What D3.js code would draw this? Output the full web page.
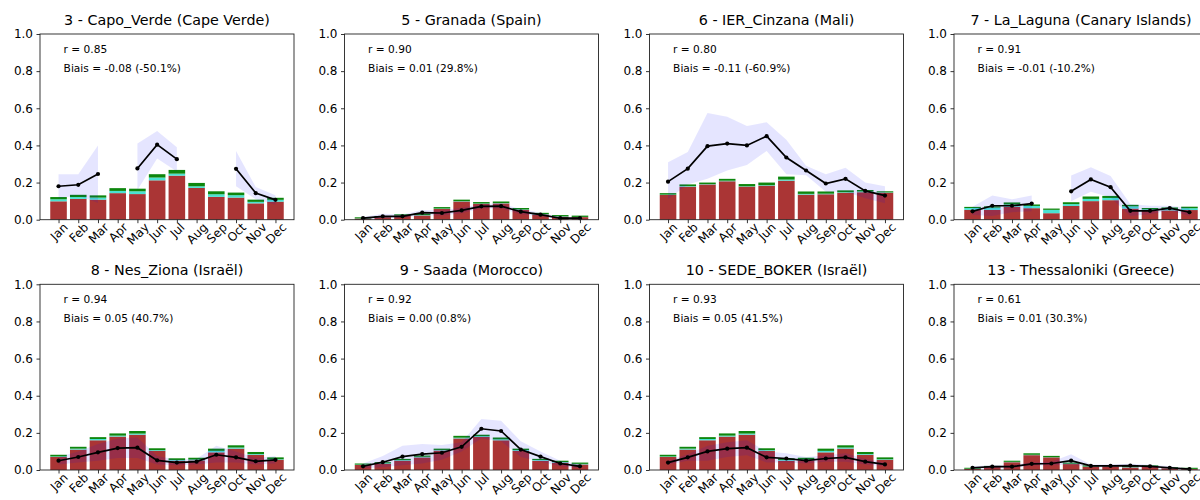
<!DOCTYPE html>
<html>
<head>
<meta charset="utf-8">
<script src="https://cdn.jsdelivr.net/npm/d3@7"></script>
<style>
  body { margin: 0; background: #fff; }
  text { font-family: "DejaVu Sans", sans-serif; fill: #000; }
</style>
</head>
<body>
<svg id="chart" width="1200" height="500"></svg>
<script>
// Monthly AOD: stacked model components, observed mean and ±1 std band per station
const months = ["Jan","Feb","Mar","Apr","May","Jun","Jul","Aug","Sep","Oct","Nov","Dec"];
const stationTitles = [
  "3 - Capo_Verde (Cape Verde)", "5 - Granada (Spain)", "6 - IER_Cinzana (Mali)",
  "7 - La_Laguna (Canary Islands)", "8 - Nes_Ziona (Israël)", "9 - Saada (Morocco)",
  "10 - SEDE_BOKER (Israël)", "13 - Thessaloniki (Greece)"
];
const rLabels = ["0.85","0.90","0.80","0.91","0.94","0.92","0.93","0.61"];
const biasLabels = ["-0.08 (-50.1%)","0.01 (29.8%)","-0.11 (-60.9%)","-0.01 (-10.2%)",
                    "0.05 (40.7%)","0.00 (0.8%)","0.05 (41.5%)","0.01 (30.3%)"];

// bottom layer (brown)
const layerBrown = [
  [0.099,0.112,0.108,0.143,0.138,0.212,0.237,0.171,0.123,0.119,0.088,0.097],
  [0.006,0.014,0.022,0.023,0.058,0.098,0.085,0.088,0.053,0.028,0.016,0.014],
  [0.133,0.178,0.190,0.207,0.178,0.183,0.210,0.135,0.137,0.145,0.148,0.145],
  [0.053,0.053,0.070,0.062,0.035,0.074,0.100,0.105,0.060,0.050,0.050,0.052],
  [0.070,0.110,0.160,0.180,0.190,0.103,0.050,0.052,0.095,0.115,0.082,0.055],
  [0.027,0.033,0.050,0.068,0.105,0.170,0.178,0.160,0.103,0.050,0.040,0.030],
  [0.070,0.110,0.160,0.180,0.190,0.103,0.050,0.052,0.095,0.115,0.082,0.055],
  [0.006,0.016,0.042,0.080,0.068,0.032,0.018,0.020,0.014,0.018,0.010,0.005]
];
// middle layer (turquoise)
const layerTurquoise = [
  [0.011,0.010,0.011,0.012,0.015,0.015,0.011,0.009,0.014,0.013,0.008,0.010],
  [0.001,0.001,0.001,0.002,0.002,0.002,0.002,0.002,0.002,0.002,0.002,0.001],
  [0.002,0.003,0.002,0.003,0.002,0.003,0.006,0.004,0.003,0.003,0.004,0.002],
  [0.010,0.012,0.012,0.012,0.018,0.010,0.012,0.012,0.012,0.006,0.008,0.010],
  [0.003,0.005,0.007,0.005,0.006,0.004,0.004,0.004,0.008,0.006,0.004,0.003],
  [0.002,0.003,0.003,0.003,0.003,0.004,0.004,0.005,0.004,0.004,0.003,0.003],
  [0.003,0.005,0.007,0.005,0.006,0.004,0.004,0.004,0.008,0.006,0.004,0.003],
  [0.001,0.001,0.002,0.002,0.001,0.002,0.001,0.001,0.002,0.001,0.001,0.001]
];
// top layer (green)
const layerGreen = [
  [0.012,0.012,0.012,0.015,0.014,0.018,0.020,0.018,0.016,0.014,0.012,0.011],
  [0.006,0.005,0.006,0.007,0.008,0.008,0.008,0.008,0.008,0.007,0.007,0.007],
  [0.008,0.009,0.008,0.010,0.012,0.014,0.016,0.013,0.012,0.010,0.008,0.006],
  [0.006,0.007,0.011,0.008,0.007,0.010,0.013,0.011,0.008,0.007,0.008,0.008],
  [0.009,0.010,0.010,0.012,0.014,0.010,0.009,0.010,0.012,0.012,0.011,0.010],
  [0.006,0.006,0.007,0.007,0.007,0.010,0.008,0.010,0.008,0.006,0.007,0.007],
  [0.009,0.010,0.010,0.012,0.014,0.010,0.009,0.010,0.012,0.012,0.011,0.010],
  [0.005,0.005,0.006,0.008,0.007,0.006,0.006,0.004,0.006,0.006,0.004,0.006]
];
// observed monthly mean (null = no data)
const obsMean = [
  [0.180,0.188,0.246,null,0.276,0.404,0.326,null,null,0.274,0.143,0.107],
  [0.008,0.018,0.018,0.038,0.036,0.050,0.072,0.073,0.043,0.027,0.008,0.008],
  [0.205,0.275,0.396,0.410,0.400,0.450,0.335,0.265,0.195,0.220,0.155,0.130],
  [0.045,0.075,0.075,0.087,null,0.153,0.217,0.175,0.048,0.048,0.062,0.040],
  [0.050,0.070,0.095,0.118,0.120,0.052,0.040,0.045,0.082,0.068,0.047,0.055],
  [0.020,0.042,0.072,0.085,0.093,0.125,0.222,0.210,0.110,0.072,0.035,0.020],
  [0.040,0.068,0.100,0.115,0.120,0.068,0.062,0.050,0.062,0.068,0.045,0.030],
  [0.012,0.018,0.018,0.033,0.035,0.050,0.022,0.022,0.024,0.020,0.012,0.005]
];
const obsLow = [
  [0.115,0.130,0.090,null,0.160,0.330,0.260,null,null,0.180,0.110,0.080],
  [0.002,0.008,0.010,0.025,0.022,0.035,0.060,0.060,0.030,0.018,0.003,0.003],
  [0.110,0.190,0.220,0.265,0.295,0.370,0.245,0.240,0.150,0.150,0.115,0.088],
  [0.025,0.020,0.040,0.045,null,0.100,0.150,0.120,0.020,0.030,0.050,0.020],
  [0.030,0.040,0.050,0.065,0.065,0.030,0.025,0.030,0.040,0.040,0.030,0.035],
  [0.010,0.015,0.025,0.035,0.055,0.100,0.170,0.155,0.070,0.045,0.020,0.010],
  [0.030,0.050,0.050,0.070,0.080,0.040,0.040,0.035,0.045,0.045,0.030,0.020],
  [0.005,0.010,0.010,0.024,0.025,0.030,0.015,0.015,0.016,0.012,0.005,0.002]
];
const obsHigh = [
  [0.245,0.245,0.400,null,0.410,0.477,0.390,null,null,0.370,0.176,0.131],
  [0.015,0.032,0.028,0.052,0.050,0.065,0.085,0.087,0.058,0.037,0.014,0.013],
  [0.310,0.365,0.575,0.555,0.505,0.525,0.430,0.290,0.245,0.280,0.200,0.180],
  [0.070,0.130,0.110,0.130,null,0.238,0.283,0.235,0.085,0.075,0.075,0.065],
  [0.070,0.100,0.140,0.170,0.175,0.075,0.055,0.060,0.130,0.100,0.065,0.075],
  [0.035,0.075,0.130,0.140,0.135,0.150,0.275,0.265,0.155,0.100,0.050,0.030],
  [0.050,0.085,0.130,0.150,0.160,0.100,0.090,0.070,0.080,0.090,0.060,0.040],
  [0.020,0.026,0.026,0.042,0.045,0.085,0.030,0.030,0.033,0.028,0.020,0.008]
];
const yTicks = [0, 0.2, 0.4, 0.6, 0.8, 1.0];

const layerColors = ["#a52a2a", "#40e0d0", "#008000"];
const colLeft = [40, 344.5, 649.5, 954];
const rowTop = [34, 284.3];
const plotW = 254, plotH = 185.7;

const svg = d3.select("#chart");

stationTitles.forEach((title, s) => {
  const left = colLeft[s % 4], top = rowTop[Math.floor(s / 4)];
  const g = svg.append("g").attr("transform", `translate(${left},${top})`);

  const x = d3.scaleLinear().domain([-0.94, 11.94]).range([0, plotW]);
  const y = d3.scaleLinear().domain([0, 1]).range([plotH, 0]);
  const barW = x(0.84) - x(0);

  const rows = months.map((m, i) => ({
    i, brown: layerBrown[s][i], turq: layerTurquoise[s][i], green: layerGreen[s][i]
  }));
  const stacked = d3.stack().keys(["brown", "turq", "green"])(rows);

  g.append("g").selectAll("g").data(stacked).join("g")
    .attr("fill", (d, k) => layerColors[k])
    .attr("fill-opacity", 0.95)
    .selectAll("rect").data(d => d).join("rect")
      .attr("x", d => x(d.data.i) - barW / 2)
      .attr("width", barW)
      .attr("y", d => y(d[1]))
      .attr("height", d => y(d[0]) - y(d[1]));

  // observed ±1 std band
  const band = months.map((m, i) => ({ i, lo: obsLow[s][i], hi: obsHigh[s][i] }));
  g.append("path")
    .datum(band)
    .attr("fill", "blue").attr("fill-opacity", 0.1)
    .attr("d", d3.area().defined(d => d.lo != null && d.hi != null)
      .x(d => x(d.i)).y0(d => y(d.lo)).y1(d => y(d.hi)));

  // observed mean line with markers
  const pts = months.map((m, i) => ({ i, v: obsMean[s][i] }));
  g.append("path")
    .datum(pts)
    .attr("fill", "none").attr("stroke", "#000").attr("stroke-width", 1.7)
    .attr("d", d3.line().defined(d => d.v != null).x(d => x(d.i)).y(d => y(d.v)));
  g.append("g").selectAll("circle").data(pts.filter(d => d.v != null)).join("circle")
    .attr("cx", d => x(d.i)).attr("cy", d => y(d.v)).attr("r", 2.1).attr("fill", "#000");

  // y axis
  const ya = g.append("g").call(d3.axisLeft(y).tickValues(yTicks)
    .tickFormat(d3.format(".1f")).tickSize(3.5).tickPadding(3.5));
  ya.select(".domain").remove();
  ya.selectAll("line").attr("stroke", "#000").attr("stroke-width", 0.8);
  ya.selectAll("text").style("font-size", "12px").attr("fill", "#000");

  // x axis with rotated month labels
  const xa = g.append("g").attr("transform", `translate(0,${plotH})`)
    .call(d3.axisBottom(x).tickValues(d3.range(12)).tickFormat(i => months[i])
      .tickSize(3.5).tickPadding(3.5));
  xa.select(".domain").remove();
  xa.selectAll("line").attr("stroke", "#000").attr("stroke-width", 0.8);
  xa.selectAll("text")
    .style("font-size", "12px").attr("fill", "#000")
    .attr("text-anchor", "middle").attr("dy", "0.35em")
    .each(function () {
      const len = this.getComputedTextLength();
      const cy = 1.5 + (len + 11) * Math.SQRT1_2 / 2;
      d3.select(this).attr("y", 0).attr("transform", `translate(0,${cy}) rotate(-45)`);
    });

  // frame
  g.append("rect").attr("width", plotW).attr("height", plotH)
    .attr("fill", "none").attr("stroke", "#222").attr("stroke-width", 0.9);

  // title and statistics
  g.append("text").attr("x", plotW / 2).attr("y", -9)
    .attr("text-anchor", "middle").style("font-size", "14.3px").text(title);
  g.append("text").attr("x", plotW * 0.093).attr("y", 19)
    .style("font-size", "10.6px").text("r = " + rLabels[s]);
  g.append("text").attr("x", plotW * 0.093).attr("y", 37.5)
    .style("font-size", "10.6px").text("Biais = " + biasLabels[s]);
});
</script>
</body>
</html>
